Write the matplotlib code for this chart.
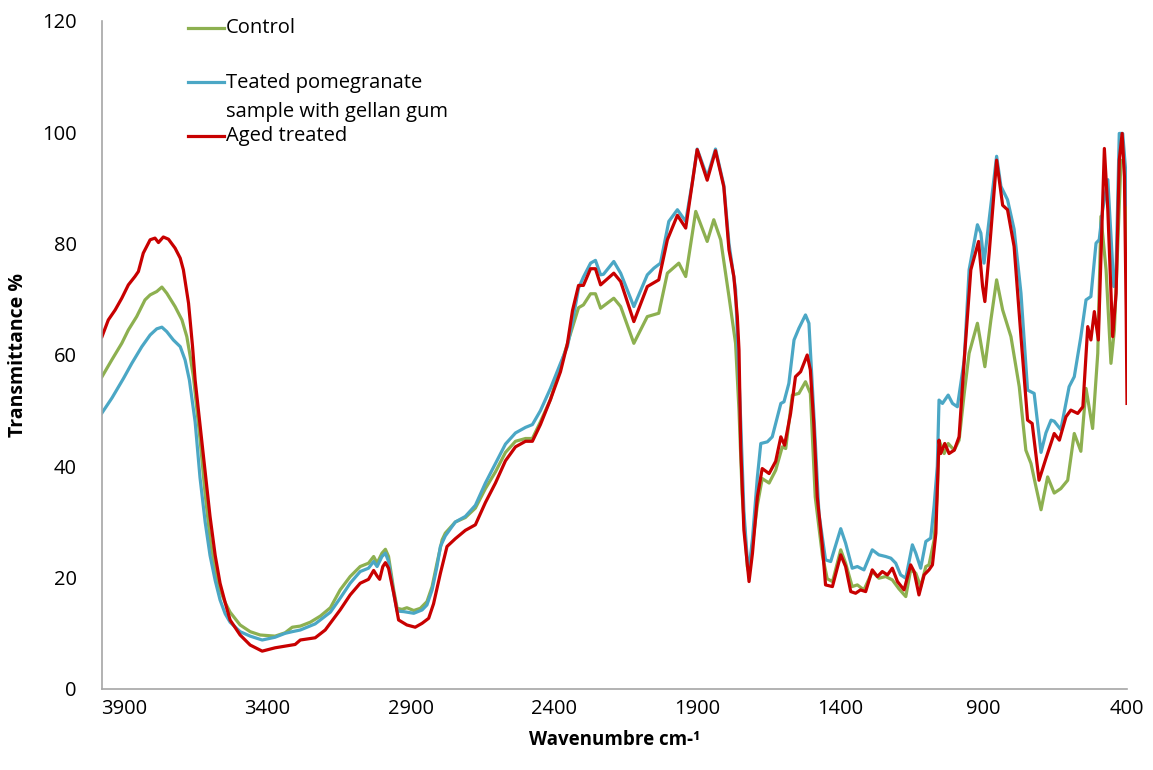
import matplotlib.pyplot as plt
from matplotlib.lines import Line2D

# FTIR spectra: wavenumber (cm-1) and transmittance (%)
wn_control = [3977, 3943, 3908, 3885, 3856, 3827, 3809, 3786, 3768, 3751, 3722, 3698, 3681, 3669, 3658,
              3635, 3617, 3600, 3582, 3565, 3547, 3530, 3495, 3460, 3425, 3373, 3338, 3313, 3285, 3250,
              3215, 3180, 3146, 3111, 3076, 3047, 3029, 3017, 3000, 2988, 2977, 2959, 2947, 2930, 2913,
              2889, 2866, 2843, 2825, 2808, 2790, 2779, 2744, 2709, 2674, 2639, 2604, 2569, 2534, 2499,
              2475, 2447, 2412, 2377, 2353, 2335, 2314, 2297, 2272, 2255, 2237, 2191, 2167, 2121, 2074,
              2034, 2004, 1964, 1940, 1905, 1865, 1842, 1818, 1789, 1766, 1754, 1743, 1725, 1719, 1707,
              1690, 1673, 1649, 1626, 1603, 1591, 1568, 1545, 1522, 1505, 1488, 1463, 1446, 1428, 1423,
              1399, 1382, 1359, 1341, 1318, 1289, 1266, 1242, 1219, 1196, 1172, 1155, 1137, 1120, 1102,
              1091, 1073, 1062, 1056, 1038, 1024, 1003, 986, 968, 951, 922, 896, 875, 855, 834,
              805, 776, 753, 735, 718, 700, 677, 654, 631, 607, 584, 561, 543, 520, 502,
              491, 473, 456, 444, 432, 421, 409, 400]
t_control = [56.1, 59.1, 62.1, 64.5, 66.9, 69.9, 70.8, 71.4, 72.2, 71.1, 68.7, 66.3, 63.3, 59.7, 56.1,
             45, 35, 27, 21.5, 17.8, 15.5, 13.8, 11.5, 10.3, 9.7, 9.5, 10.1, 11.1, 11.3, 12,
             13.1, 14.6, 17.8, 20.2, 22, 22.6, 23.8, 22.6, 24.4, 25.1, 23.8, 17.8, 14.5, 14.3, 14.6,
             14.1, 14.5, 15.7, 18.4, 22.6, 26.8, 28, 30, 30.8, 32.5, 36, 39, 42.5, 44.5, 45,
             45, 48, 52, 58, 62, 65, 68.5, 69, 71, 71, 68.4, 70.2, 68.7, 62.1, 66.9,
             67.5, 74.7, 76.5, 74.1, 85.8, 80.4, 84.3, 80.7, 70.5, 62.1, 50, 35, 22, 20.8, 26,
             33, 37.8, 37, 39.3, 43.5, 43.2, 52.8, 53.1, 55.2, 53.1, 34.5, 24, 19.8, 19.3, 20.2,
             25, 22.6, 18.4, 18.7, 17.8, 21.1, 19.9, 20.2, 19.6, 18, 16.6, 21.4, 20.8, 18.4, 22,
             22.3, 26.8, 35, 44.7, 42.3, 44.1, 42.9, 44.7, 53.1, 60.3, 65.7, 57.9, 66.3, 73.5, 68.1,
             63.3, 54.3, 42.9, 40.5, 36.4, 32.2, 38.1, 35.2, 36, 37.5, 45.9, 42.7, 54, 46.8, 60.3,
             84.9, 75.3, 58.5, 64.5, 80.1, 95, 94.5, 79]

wn_treated = [3977, 3942, 3902, 3873, 3838, 3809, 3786, 3768, 3751, 3728, 3704, 3687, 3672,
              3652, 3635, 3617, 3600, 3582, 3565, 3547, 3530, 3495, 3460, 3418, 3373, 3338, 3313, 3285,
              3233, 3180, 3146, 3111, 3076, 3047, 3029, 3017, 3000, 2988, 2977, 2959, 2947, 2924, 2889,
              2860, 2843, 2825, 2808, 2796, 2779, 2744, 2709, 2674, 2639, 2604, 2569, 2534, 2499, 2475,
              2447, 2412, 2377, 2353, 2335, 2314, 2297, 2272, 2255, 2237, 2227, 2191, 2167, 2121, 2074,
              2051, 2028, 1999, 1969, 1940, 1917, 1900, 1865, 1836, 1807, 1789, 1766, 1748, 1737, 1725,
              1719, 1707, 1690, 1678, 1655, 1638, 1608, 1597, 1580, 1562, 1545, 1522, 1510, 1493, 1475,
              1452, 1434, 1399, 1382, 1359, 1341, 1318, 1289, 1266, 1242, 1224, 1207, 1190, 1172, 1149,
              1137, 1120, 1102, 1085, 1073, 1062, 1056, 1044, 1024, 1009, 992, 968, 951, 922, 910,
              899, 881, 855, 840, 817, 794, 770, 747, 724, 700, 683, 665, 654, 631, 602,
              584, 561, 543, 526, 508, 497, 485, 467, 456, 446, 438, 427, 415, 403, 400]
t_treated = [49.6, 52.3, 55.8, 58.5, 61.5, 63.6, 64.7, 65, 64.2, 62.7, 61.5, 59.1, 55.5,
             48, 38, 30, 24, 19.5, 16, 13.5, 12, 10.3, 9.5, 8.8, 9.3, 10, 10.3, 10.6,
             11.7, 13.8, 16.3, 19, 21.1, 21.7, 22.9, 22, 23.8, 24.4, 22.9, 17.2, 14, 13.9, 13.6,
             14.2, 15.1, 17.8, 22, 25.6, 27.5, 30, 31, 33, 37, 40.5, 44, 46, 47, 47.5,
             50, 54, 58.5, 61.5, 66, 72, 74, 76.5, 77, 74.4, 74.5, 76.8, 74.7, 68.7, 74.4,
             75.6, 76.5, 84, 86.1, 84, 91, 97, 92, 97, 90.5, 80, 71.8, 48, 32, 23.2,
             21.5, 27, 38, 44.1, 44.4, 45.3, 51.3, 51.6, 54.9, 62.7, 64.8, 67.2, 65.7, 49.5, 31.5,
             23.2, 22.9, 28.8, 26.2, 21.7, 22, 21.4, 25, 24.1, 23.8, 23.5, 22.6, 20.5, 19.9, 25.9,
             24.4, 21.7, 26.5, 27.1, 33, 40, 51.9, 51.3, 52.8, 51.3, 50.7, 59.1, 75.3, 83.4, 81.9,
             76.5, 84.3, 95.7, 90.3, 87.9, 82.6, 71.1, 53.7, 53.1, 42.5, 46, 48.3, 48.1, 46.6, 54.3,
             56.1, 63.3, 69.9, 70.5, 80.1, 80.7, 86.1, 91.5, 81.3, 72.3, 75.3, 99.8, 99.8, 92, 87]

wn_aged = [3977, 3955, 3931, 3908, 3885, 3862, 3850, 3833, 3809, 3792, 3780, 3763, 3745, 3722, 3704,
           3693, 3675, 3661, 3652, 3617, 3600, 3582, 3565, 3547, 3530, 3495, 3460, 3418, 3373, 3338,
           3303, 3285, 3233, 3198, 3146, 3111, 3076, 3047, 3029, 3017, 3008, 2997, 2988, 2977, 2959,
           2942, 2913, 2884, 2860, 2837, 2820, 2796, 2773, 2744, 2709, 2674, 2639, 2604, 2569, 2534,
           2499, 2475, 2447, 2412, 2377, 2353, 2335, 2314, 2297, 2272, 2255, 2237, 2191, 2167, 2121,
           2074, 2034, 2004, 1969, 1940, 1917, 1900, 1865, 1836, 1807, 1789, 1772, 1760, 1754, 1748,
           1737, 1719, 1707, 1690, 1673, 1649, 1626, 1608, 1595, 1574, 1557, 1539, 1516, 1505, 1493,
           1481, 1463, 1452, 1428, 1399, 1382, 1364, 1347, 1330, 1312, 1289, 1271, 1254, 1236, 1219,
           1201, 1178, 1155, 1143, 1126, 1108, 1091, 1079, 1067, 1062, 1056, 1050, 1036, 1021, 1003,
           986, 968, 945, 918, 904, 896, 881, 855, 834, 817, 794, 770, 747, 731, 707,
           683, 654, 636, 613, 596, 572, 554, 537, 526, 514, 500, 493, 479, 467, 450,
           438, 427, 417, 409, 403, 400]
t_aged = [63.3, 66.3, 68.1, 70.2, 72.6, 74.1, 75, 78.3, 80.7, 81, 80.2, 81.2, 80.8, 79.2, 77.4,
          75.3, 69.3, 61.5, 55.5, 39, 31, 24, 19, 15.5, 12.4, 9.7, 7.9, 6.8, 7.4, 7.7,
          8, 8.8, 9.2, 10.6, 14.2, 16.9, 19, 19.7, 21.3, 20.3, 19.7, 22, 22.7, 21.7, 17.2,
          12.4, 11.5, 11.1, 11.8, 12.7, 15.3, 20.8, 25.6, 27, 28.5, 29.5, 33.5, 37, 41, 43.5,
          44.5, 44.5, 47.5, 52, 57, 62, 68, 72.5, 72.5, 75.5, 75.5, 72.6, 74.7, 73.2, 66,
          72.3, 73.5, 80.7, 85.1, 82.8, 90.9, 96.9, 91.4, 96.7, 90.2, 78.9, 74.1, 66.9, 60.9, 43.5,
          28.6, 19.3, 24.4, 34.5, 39.6, 38.7, 40.9, 45.3, 43.8, 49.5, 56.1, 57, 60, 57.3, 47.7,
          34.5, 25.6, 18.7, 18.4, 24.1, 22, 17.5, 17.2, 17.8, 17.5, 21.4, 20.2, 21.1, 20.5, 21.7,
          19.3, 17.8, 22.3, 21.1, 16.9, 20.5, 21.4, 22.3, 28, 36, 44.7, 42.3, 44.1, 42.3, 42.9,
          45.3, 59.1, 75.3, 80.4, 72.3, 69.6, 78.3, 95, 86.9, 86.1, 79.5, 63.3, 48.3, 47.7, 37.5,
          41.4, 45.9, 44.7, 48.9, 50.1, 49.5, 50.7, 65.1, 62.7, 67.8, 62.7, 74.1, 97.1, 86.1, 63.3,
          71.1, 95, 99.8, 92, 68.1, 51.3]

labels = ['Control', 'Teated pomegranate\nsample with gellan gum', 'Aged treated']
colors = ['#8DB050', '#4BA7C5', '#C80000']

plt.rcParams['font.family'] = ['Open Sans', 'DejaVu Sans']

fig = plt.figure(figsize=(11.53, 7.70), dpi=100)
ax = fig.add_axes([102 / 1153, 81 / 770, 1025 / 1153, 668 / 770])

ax.plot(wn_control, t_control, color=colors[0], lw=2.3, solid_joinstyle='round')
ax.plot(wn_treated, t_treated, color=colors[1], lw=2.3, solid_joinstyle='round')
ax.plot(wn_aged, t_aged, color=colors[2], lw=2.3, solid_joinstyle='round')

ax.set_xlim(3977, 400)
ax.set_ylim(0, 120)
ax.set_xticks([3900, 3400, 2900, 2400, 1900, 1400, 900, 400])
ax.set_yticks(range(0, 121, 20))
ax.tick_params(axis='both', length=0, labelsize=14.5)
ax.tick_params(axis='y', pad=18)
ax.tick_params(axis='x', pad=7)
for s in ['top', 'right']:
    ax.spines[s].set_visible(False)
for s in ['left', 'bottom']:
    ax.spines[s].set_color('#A6A6A6')
    ax.spines[s].set_linewidth(1.2)

ax.set_xlabel('Wavenumbre cm-¹', fontsize=13.5, fontweight='bold', labelpad=8)
ax.set_ylabel('Transmittance %', fontsize=14, fontweight='bold', labelpad=10)

# legend drawn by hand so the wrapped label keeps its marker on the first line
leg_y = [28, 82, 136]
for lab, col, py in zip(labels, colors, leg_y):
    yf = 1 - py / 770
    fig.add_artist(Line2D([188 / 1153, 224 / 1153], [yf, yf], color=col, lw=2.3,
                          transform=fig.transFigure))
    if '\n' in lab:
        fig.text(226 / 1153, 1 - 73 / 770, lab, fontsize=14.5, va='top', ha='left',
                 linespacing=1.6)
    else:
        fig.text(226 / 1153, yf, lab, fontsize=14.5, va='center', ha='left')

fig.savefig('out.png', dpi=100)
